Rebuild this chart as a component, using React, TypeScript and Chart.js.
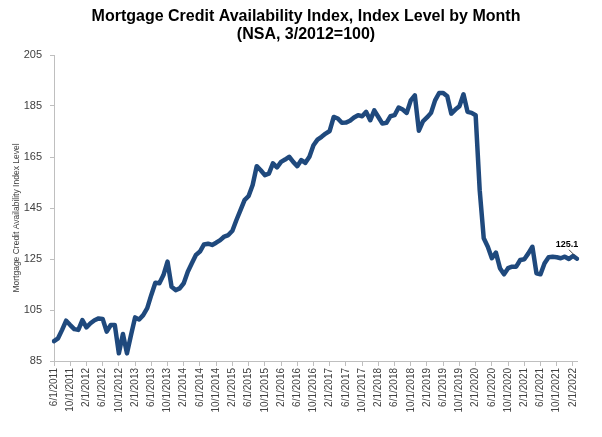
import React, { useEffect, useRef } from "react";
import { Chart, registerables } from "chart.js";

Chart.register(...registerables);

const FONT = '"Liberation Sans", Arial, Helvetica, sans-serif';

const TITLE_LINES = [
  "Mortgage Credit Availability Index, Index Level by Month",
  "(NSA, 3/2012=100)",
];
const Y_TITLE = "Mortgage Credit Availability Index Level";
const LAST_LABEL = "125.1";

const START_YEAR = 2011;
const START_MONTH = 6;

// Monthly index values, 6/1/2011 .. 3/1/2022
const mcaiValues = [
  92.8, 93.9, 97.2, 100.8, 99.1, 97.5, 97.2, 101.0, 98.2, 99.8,
  101.0, 101.7, 101.5, 96.5, 99.1, 99.1, 88.0, 95.6, 88.0, 95.2,
  102.1, 101.3, 103.0, 105.7, 110.9, 115.7, 115.5, 118.7, 124.0, 114.1,
  112.8, 113.5, 115.5, 120.0, 123.3, 126.6, 127.9, 130.7, 131.0, 130.5,
  131.4, 132.4, 133.8, 134.4, 136.1, 140.3, 144.2, 148.1, 149.7, 154.0,
  161.4, 159.8, 157.9, 158.5, 162.5, 160.9, 163.1, 164.0, 165.1, 163.1,
  161.4, 163.8, 162.7, 165.1, 169.6, 171.8, 172.9, 174.2, 175.2, 180.7,
  180.1, 178.4, 178.5, 179.2, 180.5, 181.4, 181.0, 182.7, 179.4, 183.3,
  180.7, 178.1, 178.4, 181.0, 181.4, 184.4, 183.6, 182.3, 187.2, 189.2,
  175.3, 179.0, 180.5, 182.3, 187.2, 190.1, 190.1, 188.8, 182.0, 183.6,
  184.9, 189.6, 182.7, 182.3, 181.4, 152.0, 133.1, 129.8, 125.3, 127.5,
  121.4, 119.0, 121.4, 122.0, 122.0, 124.6, 124.9, 127.2, 129.8, 119.4,
  119.0, 123.3, 125.7, 125.9, 125.7, 125.3, 125.9, 125.0, 126.2, 125.1,
];

const monthLabels: string[] = mcaiValues.map((_, i) => {
  const k = START_MONTH - 1 + i;
  return `${(k % 12) + 1}/1/${START_YEAR + Math.floor(k / 12)}`;
});

const TICK_EVERY = 4;
const Y_MIN = 85;
const Y_MAX = 205;
const Y_STEP = 20;

const overlayPlugin = {
  id: "overlay",
  afterDraw(chart: any) {
    const ctx = chart.ctx as CanvasRenderingContext2D;
    ctx.save();
    ctx.fillStyle = "#000000";
    ctx.textAlign = "center";
    ctx.textBaseline = "middle";
    ctx.font = `bold 16px ${FONT}`;
    ctx.fillText(TITLE_LINES[0], 306, 17);
    ctx.fillText(TITLE_LINES[1], 306, 35);
    ctx.restore();

    ctx.save();
    ctx.translate(17, 218);
    ctx.rotate(-Math.PI / 2);
    ctx.textAlign = "center";
    ctx.textBaseline = "middle";
    ctx.fillStyle = "#404040";
    ctx.font = `8.5px ${FONT}`;
    ctx.fillText(Y_TITLE, 0, 0);
    ctx.restore();

    const meta = chart.getDatasetMeta(0);
    const pt = meta.data[meta.data.length - 1];
    if (pt) {
      ctx.save();
      ctx.strokeStyle = "#404040";
      ctx.lineWidth = 1;
      ctx.beginPath();
      ctx.moveTo(pt.x - 8, pt.y - 9);
      ctx.lineTo(pt.x - 3, pt.y - 4);
      ctx.stroke();
      ctx.fillStyle = "#000000";
      ctx.font = `bold 9px ${FONT}`;
      ctx.textAlign = "center";
      ctx.textBaseline = "middle";
      ctx.fillText(LAST_LABEL, pt.x - 10, pt.y - 14);
      ctx.restore();
    }
  },
};

export default function App() {
  const ref = useRef<HTMLCanvasElement | null>(null);

  useEffect(() => {
    if (!ref.current) return;
    const chart = new Chart(ref.current, {
      type: "line",
      data: {
        labels: monthLabels,
        datasets: [
          {
            data: mcaiValues,
            borderColor: "#1F497D",
            borderWidth: 4.5,
            pointRadius: 0,
            tension: 0,
            fill: false,
            borderJoinStyle: "round",
            borderCapStyle: "round",
          },
        ],
      },
      options: {
        animation: false,
        responsive: false,
        devicePixelRatio: 1,
        layout: { padding: { top: 55, right: 25, bottom: 0, left: 0 } },
        plugins: {
          legend: { display: false },
          tooltip: { enabled: false },
          title: { display: false },
        },
        scales: {
          x: {
            type: "category",
            offset: false,
            grid: {
              display: true,
              drawOnChartArea: false,
              drawTicks: true,
              tickLength: 5,
              color: "#bfbfbf",
            },
            border: { display: true, color: "#bfbfbf", width: 1 },
            ticks: {
              autoSkip: false,
              maxRotation: 90,
              minRotation: 90,
              padding: 2,
              color: "#404040",
              font: { size: 10, family: FONT },
              callback: (_v: any, i: number) =>
                i % TICK_EVERY === 0 ? monthLabels[i] : null,
            },
            afterFit: (s: any) => {
              s.height = 76;
            },
          },
          y: {
            min: Y_MIN,
            max: Y_MAX,
            grid: {
              display: true,
              drawOnChartArea: false,
              drawTicks: true,
              tickLength: 4,
              color: "#bfbfbf",
            },
            border: { display: true, color: "#bfbfbf", width: 1 },
            ticks: {
              stepSize: Y_STEP,
              padding: 8,
              color: "#404040",
              font: { size: 11, family: FONT },
            },
            afterFit: (s: any) => {
              s.width = 54;
            },
          },
        },
      },
      plugins: [overlayPlugin],
    });
    return () => chart.destroy();
  }, []);

  return (
    <div style={{ position: "fixed", left: 0, top: 0, width: 602, height: 437, background: "#ffffff" }}>
      <canvas ref={ref} width={602} height={437} />
    </div>
  );
}
